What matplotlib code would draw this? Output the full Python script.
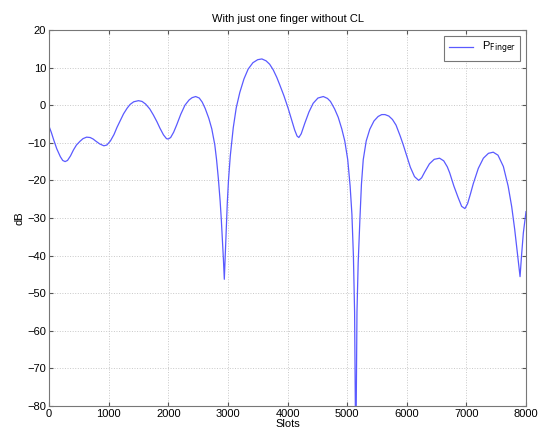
import numpy as np
import matplotlib
matplotlib.use("Agg")
import matplotlib.pyplot as plt

# values
slots = [0, 40, 80, 130, 190, 230, 270, 310, 360, 410, 460, 520, 570, 630, 690,
         740, 780, 850, 920, 970, 1030, 1090, 1140, 1200, 1250, 1310, 1360, 1420,
         1500, 1560, 1620, 1690, 1750, 1810, 1860, 1920, 1970, 2000, 2040, 2090,
         2140, 2210, 2280, 2350, 2400, 2460, 2520, 2570, 2620, 2680, 2730, 2780,
         2810, 2840, 2870, 2890, 2910, 2925, 2940, 2955, 2970, 2990, 3010, 3040,
         3090, 3140, 3200, 3270, 3340, 3420, 3500, 3570, 3640, 3700, 3760, 3820,
         3870, 3940, 4010, 4070, 4120, 4160, 4190, 4230, 4290, 4360, 4430, 4510,
         4600, 4670, 4720, 4790, 4850, 4910, 4960, 5010, 5050, 5080, 5105, 5125,
         5145, 5165, 5185, 5215, 5240, 5270, 5320, 5380, 5450, 5520, 5580, 5635,
         5700, 5760, 5820, 5890, 5940, 6000, 6060, 6130, 6200, 6250, 6300, 6380,
         6460, 6550, 6620, 6680, 6720, 6790, 6860, 6920, 6975, 7020, 7070, 7115,
         7200, 7285, 7370, 7450, 7530, 7620, 7700, 7760, 7810, 7845, 7875, 7900,
         7925, 7955, 8000]
p_finger = [-5.6, -7.3, -9.3, -11.6, -13.7, -14.7, -15.0, -14.7, -13.5, -11.9,
            -10.6, -9.6, -8.9, -8.5, -8.6, -9.0, -9.5, -10.3, -10.8, -10.6, -9.5,
            -7.8, -5.9, -3.9, -2.3, -0.8, 0.2, 0.9, 1.2, 1.0, 0.3, -1.0, -2.6,
            -4.4, -6.1, -7.9, -8.9, -9.0, -8.6, -7.2, -5.3, -2.4, 0.0, 1.4, 2.0,
            2.3, 1.9, 0.8, -0.9, -3.5, -6.3, -10.5, -14.5, -19.5, -25.5, -30.5,
            -36.5, -41.0, -46.3, -40.0, -33.0, -26.0, -20.0, -13.5, -6.0, -0.7,
            3.4, 7.0, 9.6, 11.3, 12.1, 12.3, 11.8, 10.9, 9.4, 7.4, 5.4, 2.5, -0.8,
            -4.0, -6.6, -8.2, -8.6, -7.6, -4.8, -1.8, 0.5, 1.9, 2.3, 1.8, 1.0,
            -1.0, -3.2, -6.3, -9.5, -14.5, -21.5, -29.0, -40.0, -55.0, -95.0,
            -55.0, -42.0, -30.0, -21.0, -14.5, -9.5, -6.4, -4.2, -3.0, -2.5, -2.5,
            -2.9, -3.8, -5.3, -8.2, -10.5, -13.5, -16.5, -19.0, -20.0, -19.3,
            -17.8, -15.6, -14.4, -14.1, -14.8, -16.4, -18.0, -21.5, -24.5, -26.9,
            -27.5, -26.2, -23.5, -20.9, -16.8, -14.1, -12.8, -12.5, -13.3, -16.3,
            -21.5, -27.0, -33.0, -38.0, -42.5, -45.6, -40.0, -34.0, -28.3]
xticks = np.arange(0, 8001, 1000)
yticks = np.arange(-80, 21, 10)

plt.rcParams['font.family'] = ['Liberation Sans', 'DejaVu Sans']

fig = plt.figure(figsize=(5.41, 4.32), dpi=100)
ax = fig.add_axes([0.0906, 0.0602, 0.8817, 0.8704])

ax.plot(slots, p_finger, color='#5a5aff', linewidth=0.9, label=r'P$_{\mathrm{Finger}}$')

ax.set_xlim(0, 8000)
ax.set_ylim(-80, 20)
ax.set_xticks(xticks)
ax.set_yticks(yticks)
ax.tick_params(direction='in', top=True, right=True, labelsize=8, length=3,
               color='#555555', pad=2)
ax.grid(True, linestyle=':', color='#c8c8c8', linewidth=0.7)
for s in ax.spines.values():
    s.set_color('#777777')
    s.set_linewidth(0.8)

ax.set_xlabel("Slots", fontsize=8, labelpad=0)
ax.set_ylabel("dB", fontsize=8, labelpad=2)
ax.set_title("With just one finger without CL", fontsize=8, pad=6)

leg = ax.legend(loc='upper right', fontsize=8, fancybox=False, framealpha=1,
                edgecolor='#777777', handlelength=2.2, borderaxespad=0.5)
leg.get_frame().set_linewidth(0.8)

plt.savefig("out.png", dpi=100)
plt.close()
